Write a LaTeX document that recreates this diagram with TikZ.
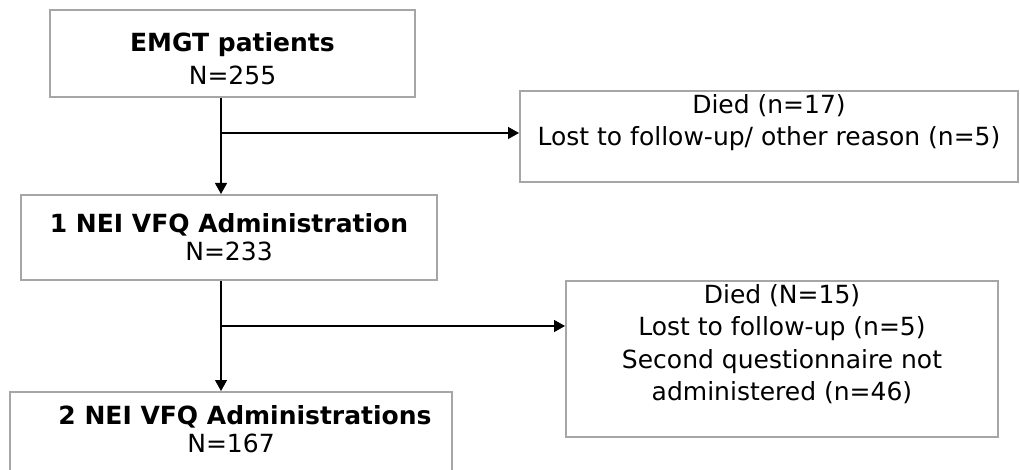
\documentclass[tikz,border=0pt]{standalone}
\usepackage{fontspec}
\setmainfont{DejaVu Sans}
\usetikzlibrary{arrows.meta, positioning}
\definecolor{boxgray}{HTML}{A6A6A6}
\tikzstyle{stage} = [rectangle, draw = boxgray, line width = 2pt, text centered, align = center, font = \fontsize{25}{32}\selectfont]
\tikzstyle{loss} = [stage, font = \fontsize{25}{32.5}\selectfont]
\tikzstyle{flow} = [line width = 1.3pt, -{Triangle[length = 11pt, width = 12pt]}]

\begin{document}
\begin{tikzpicture}[x = 1pt, y = -1pt]
  \useasboundingbox (0,0) rectangle (1020,470);
  \node (emgt) [stage, font = \fontsize{25}{33}\selectfont, minimum width = 365pt, minimum height = 87pt] at (232.5,53.5) {\mbox{}\\[-4pt]\textbf{EMGT patients}\\N=255};
  \node (vfq1) [stage, font = \fontsize{25}{28}\selectfont, minimum width = 416pt, minimum height = 85pt, below = 96pt of emgt, xshift = -3.5pt] {\textbf{1 NEI VFQ Administration}\\N=233};
  \node (vfq2) [stage, font = \fontsize{25}{28}\selectfont, minimum width = 442pt, minimum height = 84pt, below = 110pt of vfq1, xshift = 2pt] {\hspace*{28pt}\textbf{2 NEI VFQ Administrations}\\N=167\\[-18pt]\mbox{}};
  \node (died1) [loss, minimum width = 498pt, minimum height = 87pt, right = 103pt of emgt, yshift = -83pt] {Died (n=17)\\Lost to follow-up/ other reason (n=5)\\ \mbox{}};
  \node (died2) [loss, minimum width = 432pt, minimum height = 150pt, right = 127pt of vfq1, yshift = -121.5pt] {Died (N=15)\\Lost to follow-up (n=5)\\Second questionnaire not\\administered (n=46)\\ \mbox{}};
  \coordinate (split1) at (221,133);
  \coordinate (split2) at (221,326);
  \draw [flow] (emgt.south -| split1) -- (split1 |- vfq1.north);
  \draw [flow] (split1) -- (split1 -| died1.west);
  \draw [flow] (vfq1.south -| split2) -- (split2 |- vfq2.north);
  \draw [flow] (split2) -- (split2 -| died2.west);
\end{tikzpicture}
\end{document}
